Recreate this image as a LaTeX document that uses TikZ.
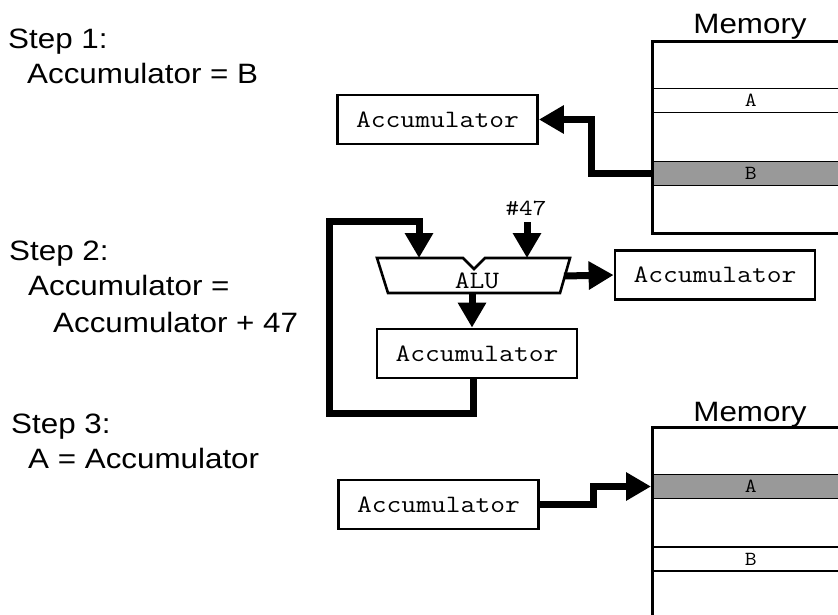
\documentclass[tikz,border=0pt]{standalone}
\usepackage{fontspec}
\setmainfont[FakeStretch=1.12]{Liberation Sans}
\setmonofont[FakeStretch=1.15]{Latin Modern Mono}
\usetikzlibrary{arrows.meta}

\tikzset{
  steptext/.style={font=\fontsize{28}{32}\selectfont, inner sep=0pt, anchor=base west},
  memtitle/.style={font=\fontsize{28}{32}\selectfont, inner sep=0pt, anchor=base},
  regbox/.style={draw, line width=2.8pt, minimum width=200pt, minimum height=49pt,
    inner sep=0pt, font=\ttfamily\fontsize{25}{28}\selectfont},
  memcell/.style={draw, line width=1.4pt, minimum width=198pt, minimum height=24pt,
    anchor=west, inner sep=0pt, font=\ttfamily\fontsize{20}{22}\selectfont},
  hotcell/.style={memcell, fill=black!40},
  memframe/.style={draw, line width=2.6pt, minimum width=198pt, anchor=north west, inner sep=0pt},
  bigarrow/.style={line width=7pt, line join=miter, -{Triangle[length=25pt,width=27pt]}},
  aluline/.style={line width=2.6pt, line join=miter}
}

\begin{document}
\begin{tikzpicture}[x=1pt, y=-1pt]
  \useasboundingbox (0,0) rectangle (838,614);
  \fill[white] (0,0) rectangle (838,614);
  \clip (0,0) rectangle (838,614);

  % ---- step descriptions ----
  \node[steptext] (s1)  at (8,48)   {Step 1:};
  \node[steptext] (s1b) at (27,83)  {Accumulator = B};
  \node[steptext] (s2)  at (9,260)  {Step 2:};
  \node[steptext] (s2b) at (28,295) {Accumulator =};
  \node[steptext] (s2c) at (53,332) {Accumulator + 47};
  \node[steptext] (s3)  at (11,433) {Step 3:};
  \node[steptext] (s3b) at (28,468) {A = Accumulator};

  % ---- step 1: load B ----
  \node[memcell] (mA1) at (651,100.5) {A};
  \node[hotcell] (mB1) at (651,173.5) {B};
  \node[memframe, minimum height=192pt] (mem1) at (651,40) {};
  \node[memtitle] (mt1) at (750,33) {Memory};

  \node[regbox] (acc1) at (437.5,119.5) {Accumulator};
  \draw[bigarrow] (mB1.west) -- ++(-60,0) |- (acc1.east);

  % ---- step 2: add 47 ----
  \draw[aluline, fill=white] (377,258) -- (463,258) -- (474,269) -- (485,258)
     -- (570,258) -- (560,293) -- (388,293) -- cycle;
  \node[inner sep=0pt, font=\ttfamily\fontsize{25}{28}\selectfont] (alu) at (477,281) {ALU};
  \coordinate (aluL) at (419,258);
  \coordinate (aluR) at (527,258);
  \coordinate (aluE) at (564,276);
  \coordinate (aluS) at (472,293);

  \node[inner sep=0pt, font=\ttfamily\fontsize{23}{26}\selectfont] (k47) at (526,208) {\#47};
  \coordinate (k47s) at (527,222);

  \node[regbox] (accR) at (715,275) {Accumulator};
  \node[regbox] (accB) at (477,353.5) {Accumulator};

  \draw[bigarrow] (k47s) -- (aluR);
  \draw[bigarrow] (aluE) -- (accR.west);
  \draw[bigarrow] (aluS) -- (aluS |- accB.north);
  \draw[bigarrow] ([xshift=-4pt]accB.south) |- (329,413) |- (aluL |- 0,221) -- (aluL);

  % ---- step 3: store into A ----
  \node[hotcell] (mA2) at (651,486.5) {A};
  \node[memcell] (mB2) at (651,559) {B};
  \node[memframe, minimum height=230pt] (mem2) at (651,426) {};
  \node[memtitle] (mt2) at (750,421) {Memory};

  \node[regbox] (acc3) at (438.5,504.5) {Accumulator};
  \draw[bigarrow] (acc3.east) -- ++(54,0) |- (mA2.west);
\end{tikzpicture}
\end{document}
